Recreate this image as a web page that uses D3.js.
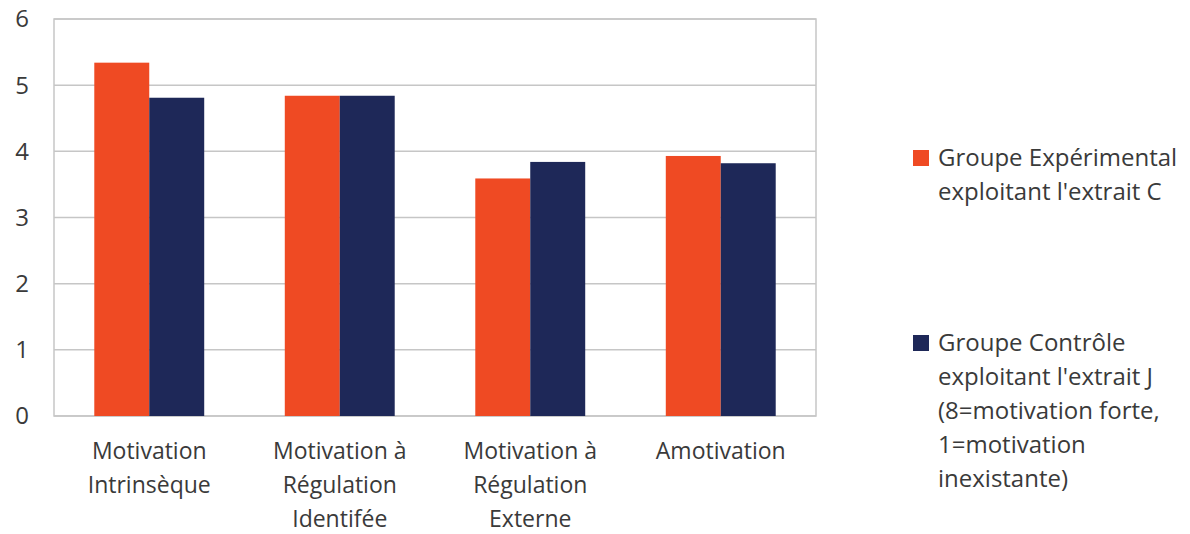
<!DOCTYPE html>
<html>
<head>
<meta charset="utf-8">
<script src="https://cdn.jsdelivr.net/npm/d3@7"></script>
<style>
  body { margin: 0; background: #fff; }
  text { font-family: "Open Sans", sans-serif; fill: #3a3a3a; }
</style>
</head>
<body>
<div id="chart"></div>
<script>
const categories = [
  ["Motivation", "Intrinsèque"],
  ["Motivation à", "Régulation", "Identifée"],
  ["Motivation à", "Régulation", "Externe"],
  ["Amotivation"]
];
const seriesNames = ["experimental", "controle"];
const experimental = [5.34, 4.84, 3.59, 3.93];
const controle = [4.81, 4.84, 3.84, 3.82];
const yTicks = [0, 1, 2, 3, 4, 5, 6];
const legendLabels = [
  ["Groupe Expérimental", "exploitant l'extrait C"],
  ["Groupe Contrôle", "exploitant l'extrait J", "(8=motivation forte,", "1=motivation", "inexistante)"]
];
const colors = ["#ef4a23", "#1e2858"];

const W = 1190, H = 534;
const plot = {left: 54, right: 816, top: 19, bottom: 416};
const fontSize = 24;

const svg = d3.select("#chart").append("svg")
  .attr("width", W)
  .attr("height", H);

const catIdx = categories.map((d, i) => i);
const x0 = d3.scaleBand().domain(catIdx).range([plot.left, plot.right])
  .paddingInner(0.423).paddingOuter(0.2115);
const x1 = d3.scaleBand().domain(seriesNames).range([0, x0.bandwidth()]);
const y = d3.scaleLinear().domain([0, 6]).range([plot.bottom, plot.top]);

// gridlines
svg.append("g")
  .selectAll("line")
  .data(yTicks)
  .join("line")
  .attr("x1", plot.left).attr("x2", plot.right)
  .attr("y1", d => y(d)).attr("y2", d => y(d))
  .attr("stroke", "#c6c6c6").attr("stroke-width", 1.5);

// frame
svg.append("rect")
  .attr("x", plot.left).attr("y", plot.top)
  .attr("width", plot.right - plot.left).attr("height", plot.bottom - plot.top)
  .attr("fill", "none").attr("stroke", "#c6c6c6").attr("stroke-width", 1.5);

// bars
const rows = catIdx.map(i => ({i, vals: [experimental[i], controle[i]]}));
svg.append("g")
  .selectAll("g")
  .data(rows)
  .join("g")
  .attr("transform", d => `translate(${x0(d.i)},0)`)
  .selectAll("rect")
  .data(d => d.vals.map((v, k) => ({key: seriesNames[k], v, k})))
  .join("rect")
  .attr("x", d => x1(d.key))
  .attr("width", x1.bandwidth())
  .attr("y", d => y(d.v))
  .attr("height", d => y(0) - y(d.v))
  .attr("fill", d => colors[d.k]);

// y axis labels
svg.append("g")
  .selectAll("text")
  .data(yTicks)
  .join("text")
  .attr("x", 29)
  .attr("y", d => y(d))
  .attr("dy", "0.35em")
  .attr("text-anchor", "end")
  .style("font-size", fontSize + "px")
  .text(d => d);

// x axis labels
const xl = svg.append("g")
  .selectAll("text")
  .data(rows)
  .join("text")
  .attr("text-anchor", "middle")
  .style("font-size", "23px")
  .attr("x", d => x0(d.i) + x0.bandwidth() / 2)
  .attr("y", 451);
xl.selectAll("tspan")
  .data(d => categories[d.i])
  .join("tspan")
  .attr("x", function() { return this.parentNode.getAttribute("x"); })
  .attr("y", (d, j) => 451 + j * 34)
  .attr("dy", "0.35em")
  .text(d => d);

// legend
const legendY = [158, 343];
const lg = svg.append("g")
  .selectAll("g")
  .data(legendLabels)
  .join("g")
  .attr("transform", (d, i) => `translate(913,${legendY[i]})`);
lg.append("rect")
  .attr("x", 0).attr("y", -8)
  .attr("width", 16).attr("height", 16)
  .attr("fill", (d, i) => colors[i]);
lg.append("text")
  .style("font-size", fontSize + "px")
  .selectAll("tspan")
  .data(d => d)
  .join("tspan")
  .attr("x", 25)
  .attr("y", (d, j) => j * 34)
  .attr("dy", "0.35em")
  .text(d => d);
</script>
</body>
</html>
